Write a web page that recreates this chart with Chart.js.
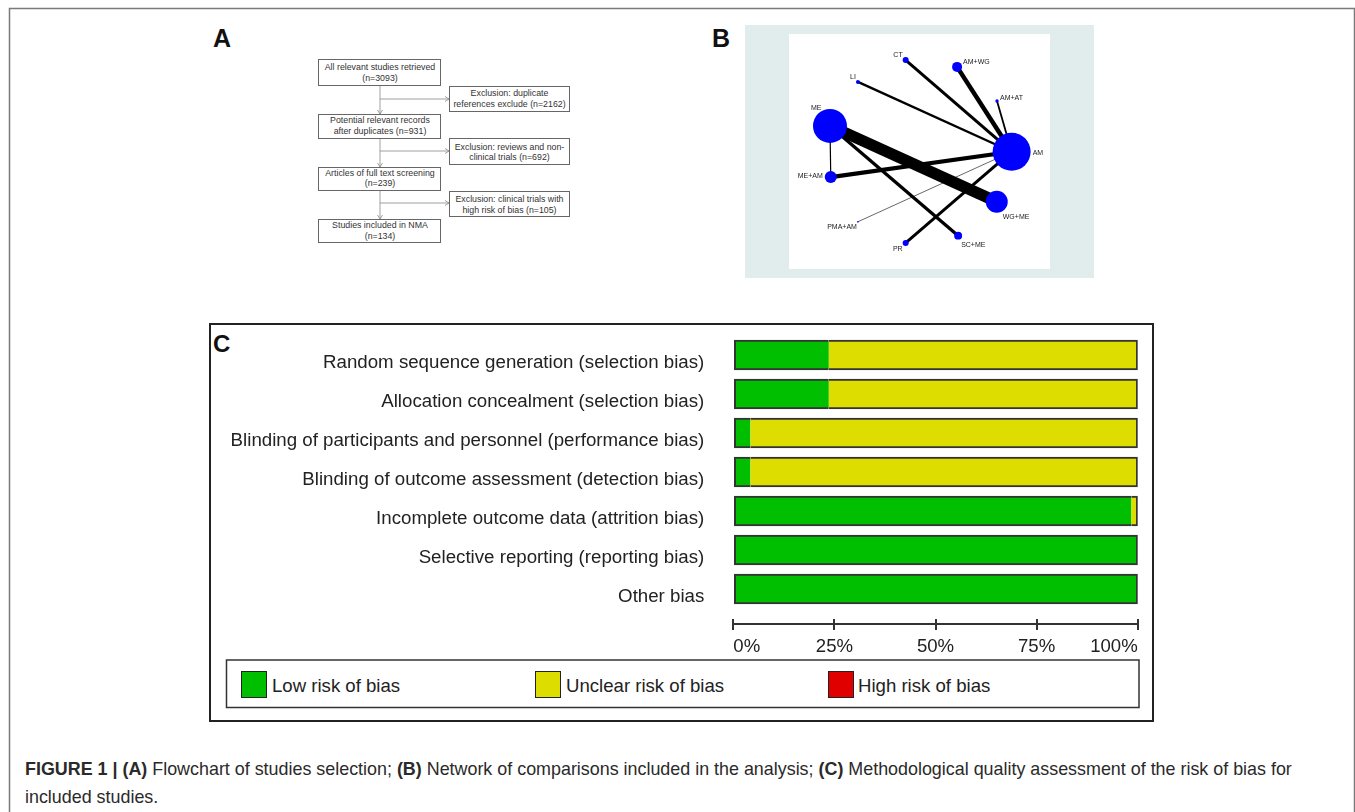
<!DOCTYPE html>
<html>
<head>
<meta charset="utf-8">
<script src="https://cdn.jsdelivr.net/npm/chart.js@4.4.0/dist/chart.umd.min.js"></script>
<style>
body{margin:0;background:#fff;width:1355px;height:812px;overflow:hidden;position:relative;font-family:"Liberation Sans",Arial,sans-serif;color:#222}
.abs{position:absolute}
#caption{left:25px;top:755px;font-size:17.9px;line-height:28px;color:#2a2a2a;white-space:nowrap}
#caption b{font-weight:bold}
</style>
</head>
<body>
<svg class="abs" style="left:0;top:0" width="1355" height="812" font-family="Liberation Sans, Arial, sans-serif">
  <defs>
    <marker id="arr" markerWidth="6" markerHeight="6" refX="5" refY="3" orient="auto" markerUnits="userSpaceOnUse">
      <polyline points="1,0.5 5,3 1,5.5" fill="none" stroke="#888" stroke-width="0.8"/>
    </marker>
  </defs>
  <path d="M9.5 812 V8.5 H1354.5 V812" stroke="#7a7a7a" stroke-width="1.5" fill="none"/>

  <!-- panel A -->
  <text x="213" y="47" font-size="25" font-weight="bold" fill="#111">A</text>
  <g stroke="#888" stroke-width="0.8" fill="none">
    <line x1="380" y1="85" x2="380" y2="114" marker-end="url(#arr)"/>
    <line x1="380" y1="138" x2="380" y2="167" marker-end="url(#arr)"/>
    <line x1="380" y1="190" x2="380" y2="219" marker-end="url(#arr)"/>
    <line x1="380" y1="99" x2="449" y2="99" marker-end="url(#arr)"/>
    <line x1="380" y1="151" x2="449" y2="151" marker-end="url(#arr)"/>
    <line x1="380" y1="203" x2="449" y2="203" marker-end="url(#arr)"/>
  </g>
  <g stroke="#666" stroke-width="1" fill="#fff">
    <rect x="318.5" y="59.5" width="122" height="26"/>
    <rect x="449.5" y="86.5" width="120" height="25"/>
    <rect x="318.5" y="114.5" width="122" height="24"/>
    <rect x="449.5" y="138.5" width="120" height="26"/>
    <rect x="318.5" y="167.5" width="122" height="23"/>
    <rect x="449.5" y="191.5" width="120" height="25"/>
    <rect x="318.5" y="219.5" width="122" height="23"/>
  </g>
  <g font-size="8.8" fill="#333" text-anchor="middle">
    <text x="380" y="69.8">All relevant studies retrieved</text>
    <text x="380" y="81.4">(n=3093)</text>
    <text x="509.5" y="95.8">Exclusion: duplicate</text>
    <text x="509.5" y="107.4">references exclude (n=2162)</text>
    <text x="380" y="123.1">Potential relevant records</text>
    <text x="380" y="133.8">after duplicates (n=931)</text>
    <text x="509.5" y="149.8">Exclusion: reviews and non-</text>
    <text x="509.5" y="159.8">clinical trials (n=692)</text>
    <text x="380" y="175.8">Articles of full text screening</text>
    <text x="380" y="186.4">(n=239)</text>
    <text x="509.5" y="202.1">Exclusion: clinical trials with</text>
    <text x="509.5" y="213.1">high risk of bias (n=105)</text>
    <text x="380" y="228.1">Studies included in NMA</text>
    <text x="380" y="239.1">(n=134)</text>
  </g>

  <!-- panel B -->
  <text x="712" y="47" font-size="25" font-weight="bold" fill="#111">B</text>
  <rect x="745" y="25" width="349" height="253" fill="#e1eded"/>
  <rect x="789" y="34" width="261" height="235" fill="#fff"/>

  <!-- panel C -->
  <rect x="210" y="324" width="943" height="397" fill="none" stroke="#222" stroke-width="2"/>
  <text x="213" y="352" font-size="24" font-weight="bold" fill="#111">C</text>
  <rect x="226.5" y="660" width="912.5" height="47.5" fill="none" stroke="#333" stroke-width="1.5"/>
  <g stroke="#222" stroke-width="1">
    <rect x="241.5" y="671.5" width="25" height="26" fill="#00bf00"/>
    <rect x="535.5" y="671.5" width="25" height="26" fill="#dddd00"/>
    <rect x="828.5" y="671.5" width="25" height="26" fill="#e00000"/>
  </g>
  <g font-size="18.6" fill="#222">
    <text x="272" y="691.5">Low risk of bias</text>
    <text x="566" y="691.5">Unclear risk of bias</text>
    <text x="858" y="691.5">High risk of bias</text>
  </g>
</svg>

<canvas id="net" class="abs" style="left:789px;top:34px" width="261" height="235"></canvas>
<canvas id="rob" class="abs" style="left:212px;top:326px" width="938" height="336"></canvas>

<div id="caption" class="abs"><b>FIGURE 1 | (A)</b> Flowchart of studies selection; <b>(B)</b> Network of comparisons included in the analysis; <b>(C)</b> Methodological quality assessment of the risk of bias for<br>included studies.</div>

<script>
// risk of bias summary (percent of studies)
const categories = [
  'Random sequence generation (selection bias)',
  'Allocation concealment (selection bias)',
  'Blinding of participants and personnel (performance bias)',
  'Blinding of outcome assessment (detection bias)',
  'Incomplete outcome data (attrition bias)',
  'Selective reporting (reporting bias)',
  'Other bias'
];
const lowRisk = [23.6, 23.6, 4.2, 4.2, 98.4, 100, 100];
const unclearRisk = [76.4, 76.4, 95.8, 95.8, 1.6, 0, 0];
const highRisk = [0, 0, 0, 0, 0, 0, 0];
const xTicks = [0, 25, 50, 75, 100];

// network of comparisons
const nodeNames = ['CT', 'AM+WG', 'LI', 'AM+AT', 'ME', 'AM', 'ME+AM', 'WG+ME', 'PMA+AM', 'SC+ME', 'PR'];
const nodeX = [44.7, 64.4, 26.4, 79.7, 15.7, 85.3, 16.0, 79.6, 26.4, 64.8, 44.7];
const nodeY = [88.9, 86.0, 79.6, 71.5, 60.9, 49.9, 39.1, 28.6, 20.1, 14.2, 11.1];
const nodeWeight = [2.5, 6.9, 1.1, 0.8, 80, 100, 10, 33.5, 0.2, 4.4, 2.5];
const edgeFrom = ['CT', 'AM+WG', 'LI', 'AM+AT', 'ME', 'ME', 'ME', 'ME+AM', 'PMA+AM', 'PR'];
const edgeTo = ['AM', 'AM', 'AM', 'AM', 'WG+ME', 'ME+AM', 'SC+ME', 'AM', 'AM', 'AM'];
const edgeStudies = [10, 15, 8, 6, 38, 4, 11, 14, 2, 10];

Chart.defaults.font.family = '"Liberation Sans", Arial, sans-serif';
Chart.defaults.color = '#222';

// ---------- panel B ----------
// where each name sits next to its node: [dx, dy, align]
const labelSpot = {
  'CT': [-3, -5.5, 'right'], 'AM+WG': [6, -4.5, 'left'], 'LI': [-2, -5, 'right'],
  'AM+AT': [3, -2.5, 'left'], 'ME': [-19, -18, 'left'], 'AM': [21, 1, 'left'],
  'ME+AM': [-8, -1, 'right'], 'WG+ME': [6, 15, 'left'], 'PMA+AM': [-1, 5, 'right'],
  'SC+ME': [3, 9, 'left'], 'PR': [-3, 6.5, 'right']
};
const nodeLabels = {
  id: 'nodeLabels',
  afterDatasetsDraw(chart) {
    const ctx = chart.ctx, x = chart.scales.x, y = chart.scales.y;
    ctx.save();
    ctx.font = '7px "Liberation Sans", Arial, sans-serif';
    ctx.fillStyle = '#222';
    ctx.textBaseline = 'middle';
    nodeNames.forEach((n, i) => {
      const s = labelSpot[n];
      ctx.textAlign = s[2];
      ctx.fillText(n, x.getPixelForValue(nodeX[i]) + s[0], y.getPixelForValue(nodeY[i]) + s[1]);
    });
    ctx.restore();
  }
};

const idx = n => nodeNames.indexOf(n);
const netSets = [{
  label: 'nodes',
  data: nodeNames.map((n, i) => ({x: nodeX[i], y: nodeY[i]})),
  pointRadius: nodeWeight.map(w => 19 * Math.sqrt(w / 100)),
  pointBackgroundColor: '#0000ff',
  pointBorderWidth: 0,
  pointHoverRadius: nodeWeight.map(w => 19 * Math.sqrt(w / 100))
}];
edgeFrom.forEach((f, k) => {
  const a = idx(f), b = idx(edgeTo[k]);
  netSets.push({
    label: f + ' vs ' + edgeTo[k],
    data: [{x: nodeX[a], y: nodeY[a]}, {x: nodeX[b], y: nodeY[b]}],
    showLine: true,
    borderColor: '#000',
    borderWidth: edgeStudies[k] * 0.3,
    pointRadius: 0
  });
});

new Chart(document.getElementById('net'), {
  type: 'scatter',
  data: {datasets: netSets},
  options: {
    responsive: false,
    animation: false,
    clip: false,
    layout: {padding: 0, autoPadding: false},
    scales: {
      x: {type: 'linear', min: 0, max: 100, display: false},
      y: {type: 'linear', min: 0, max: 100, display: false}
    },
    plugins: {legend: {display: false}, tooltip: {enabled: false}}
  },
  plugins: [nodeLabels]
});

// ---------- panel C ----------
const restOf = i => unclearRisk[i] + highRisk[i];
const tickStubs = {
  id: 'tickStubs',
  afterDraw(chart) {
    const ctx = chart.ctx, x = chart.scales.x, bottom = chart.chartArea.bottom;
    ctx.save();
    ctx.strokeStyle = '#333';
    ctx.lineWidth = 2;
    x.ticks.forEach(t => {
      const px = Math.round(x.getPixelForValue(t.value));
      ctx.beginPath();
      ctx.moveTo(px, bottom - 5);
      ctx.lineTo(px, bottom);
      ctx.stroke();
    });
    ctx.restore();
  }
};

new Chart(document.getElementById('rob'), {
  type: 'bar',
  data: {
    datasets: [
      {
        label: 'Low risk of bias',
        data: lowRisk.map((v, i) => ({x: v, y: i})),
        backgroundColor: '#00bf00',
        borderColor: '#333',
        borderSkipped: false,
        borderWidth: c => ({top: 2, bottom: 2, left: 2, right: restOf(c.dataIndex) > 0 ? 0 : 2})
      },
      {
        label: 'Unclear risk of bias',
        data: unclearRisk.map((v, i) => ({x: v, y: i})),
        backgroundColor: '#dddd00',
        borderColor: '#333',
        borderSkipped: false,
        borderWidth: c => ({top: 2, bottom: 2, left: 0, right: highRisk[c.dataIndex] > 0 ? 0 : 2})
      },
      {
        label: 'High risk of bias',
        data: highRisk.map((v, i) => ({x: v, y: i})),
        backgroundColor: '#e00000',
        borderColor: '#333',
        borderSkipped: false,
        borderWidth: {top: 2, bottom: 2, left: 0, right: 2}
      }
    ]
  },
  options: {
    indexAxis: 'y',
    responsive: false,
    animation: false,
    barThickness: 30,
    layout: {padding: {left: 0, top: 9.5, right: 12.3, bottom: 0}},
    scales: {
      x: {
        type: 'linear', stacked: true, min: 0, max: 100,
        afterBuildTicks: s => { s.ticks = xTicks.map(v => ({value: v})); },
        afterFit: s => { s.height = 38; s.paddingLeft = 0; s.paddingRight = 0; },
        border: {display: true, color: '#333', width: 2},
        grid: {drawOnChartArea: false, drawTicks: true, tickLength: 6, color: '#333', lineWidth: 2},
        ticks: {align: 'inner', padding: 6, font: {size: 18.6}, color: '#222', callback: v => v + '%'}
      },
      y: {
        type: 'linear', stacked: true, reverse: true, offset: false, min: -0.5, max: 6.897,
        afterBuildTicks: s => { s.ticks = categories.map((c, i) => ({value: i})); },
        afterFit: s => { s.width = 521.3; s.paddingTop = 0; s.paddingBottom = 0; },
        border: {display: false},
        grid: {display: false, drawTicks: false, offset: false},
        ticks: {autoSkip: false, padding: 29, labelOffset: 8, font: {size: 18.7}, color: '#222',
          callback: v => categories[v]}
      }
    },
    plugins: {legend: {display: false}, tooltip: {enabled: false}}
  },
  plugins: [tickStubs]
});
</script>
</body>
</html>
